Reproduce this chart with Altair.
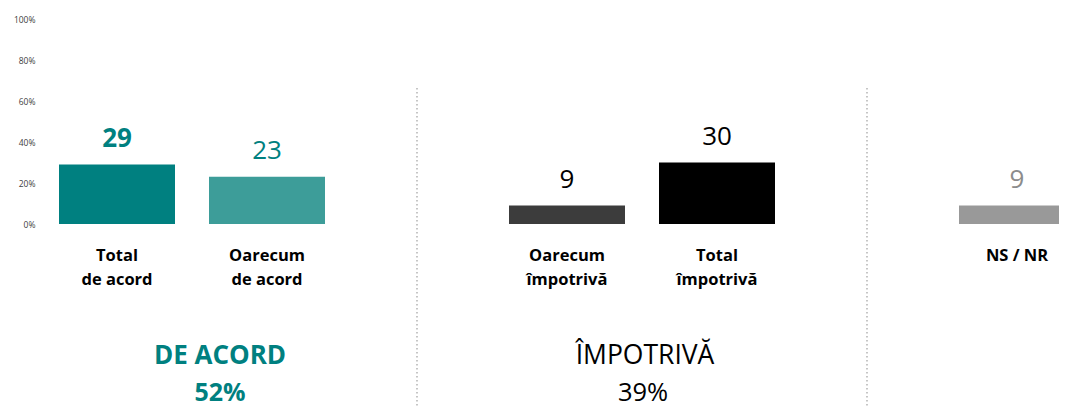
import altair as alt
import pandas as pd

# ---- data ----
categories = ["Total\nde acord", "Oarecum\nde acord", "Oarecum\nîmpotrivă", "Total\nîmpotrivă", "NS / NR"]
values = [29, 23, 9, 30, 9]
label_bold = [True, False, False, False, False]
separators = [" ", "  "]
slot_order = [categories[0], categories[1], separators[0],
              categories[2], categories[3], separators[1], categories[4]]
group_names = ["DE ACORD", "ÎMPOTRIVĂ"]
group_totals = ["52%", "39%"]
y_ticks = [0, 20, 40, 60, 80, 100]

# ---- styles ----
FONT = "Open Sans"
TEAL = "#008080"
bar_colors = ["#008080", "#3d9d99", "#3c3c3c", "#000000", "#999999"]
label_colors = ["#008080", "#008080", "#000000", "#000000", "#8c8c8c"]

df = pd.DataFrame({"cat": categories, "value": values, "bold": label_bold})
sep_df = pd.DataFrame({"cat": separators})
grp_agree = pd.DataFrame({"name": [group_names[0]], "total": [group_totals[0]]})
grp_against = pd.DataFrame({"name": [group_names[1]], "total": [group_totals[1]]})

x_axis = alt.Axis(
    orient="bottom", domain=False, ticks=False, labelAngle=0,
    labelFont=FONT, labelFontSize=16.5, labelFontWeight="bold", labelColor="#000000",
    labelPadding=23.5, labelBaseline="top", labelLineHeight=24, labelLimit=300,
    labelExpr="split(datum.value, '\\n')", title=None,
)
x_enc = alt.X("cat:N", scale=alt.Scale(domain=slot_order, range=[0, 1050],
                                       paddingInner=0, paddingOuter=0),
              axis=x_axis)
y_enc = alt.Y("value:Q", scale=alt.Scale(domain=[0, 100], nice=False),
              axis=alt.Axis(values=y_ticks, labelExpr="datum.value + '%'",
                            domain=False, ticks=False, grid=False,
                            labelFont=FONT, labelFontSize=8.5, labelColor="#404040",
                            labelPadding=7, title=None))

bars = alt.Chart(df).mark_bar(size=116).encode(
    x=x_enc, y=y_enc,
    color=alt.Color("cat:N", scale=alt.Scale(domain=categories, range=bar_colors), legend=None),
)

txt_color = alt.Fill("cat:N", scale=alt.Scale(domain=categories, range=label_colors), legend=None)

labels_bold = alt.Chart(df).transform_filter("datum.bold").mark_text(
    baseline="alphabetic", dy=-18, fontSize=26, font=FONT, fontWeight="bold"
).encode(x=x_enc, y=y_enc, text="value:Q", fill=txt_color)

labels_norm = alt.Chart(df).transform_filter("!datum.bold").mark_text(
    baseline="alphabetic", dy=-18, fontSize=26, font=FONT
).encode(x=x_enc, y=y_enc, text="value:Q", fill=txt_color)

seps = alt.Chart(sep_df).mark_rule(color="#a0a0a0", strokeDash=[1.5, 2.5], strokeWidth=1.2).encode(
    x=x_enc, y=alt.value(69), y2=alt.value(392)
)

agree_name = alt.Chart(grp_agree).mark_text(
    font=FONT, fontSize=26, fontWeight="bold", color=TEAL, baseline="alphabetic"
).encode(x=alt.value(178), y=alt.value(345), text="name:N")
agree_total = alt.Chart(grp_agree).mark_text(
    font=FONT, fontSize=25, fontWeight="bold", color=TEAL, baseline="alphabetic"
).encode(x=alt.value(178), y=alt.value(382), text="total:N")
against_name = alt.Chart(grp_against).mark_text(
    font=FONT, fontSize=26.5, color="#000000", baseline="alphabetic"
).encode(x=alt.value(603), y=alt.value(345), text="name:N")
against_total = alt.Chart(grp_against).mark_text(
    font=FONT, fontSize=25.5, color="#000000", baseline="alphabetic"
).encode(x=alt.value(601), y=alt.value(382), text="total:N")

chart = alt.layer(
    seps, bars, labels_bold, labels_norm,
    agree_name, agree_total, against_name, against_total,
).properties(
    width=1017, height=205,
    autosize=alt.AutoSizeParams(type="none"),
    padding={"left": 34, "top": 11, "right": 0, "bottom": 183},
).configure_view(strokeWidth=0)

chart.save("out.html", embed_options={"renderer": "svg", "actions": False})
